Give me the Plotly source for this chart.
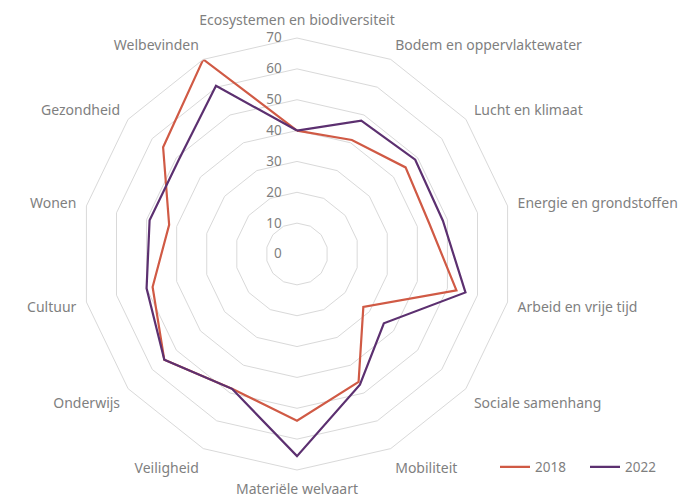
import plotly.graph_objects as go

categories = [
    "Ecosystemen en biodiversiteit", "Bodem en oppervlaktewater", "Lucht en klimaat",
    "Energie en grondstoffen", "Arbeid en vrije tijd", "Sociale samenhang",
    "Mobiliteit", "Materiële welvaart", "Veiligheid", "Onderwijs", "Cultuur",
    "Wonen", "Gezondheid", "Welbevinden",
]
values_2018 = [40, 41, 45, 44, 53, 27.5, 46, 54, 48.5, 55, 48, 42.5, 55.5, 70]
values_2022 = [40, 48, 49, 48.5, 56, 36, 47, 65.5, 48.5, 55, 50, 49, 49, 60.5]
radial_ticks = [0, 10, 20, 30, 40, 50, 60, 70]

color_2018 = "#d05a45"
color_2022 = "#5c3070"
grid = "#d9d9d9"
txt = "#7f7f7f"

fig = go.Figure()
for name, vals, col in [("2018", values_2018, color_2018), ("2022", values_2022, color_2022)]:
    fig.add_trace(go.Scatterpolar(
        r=vals + vals[:1], theta=categories + categories[:1], mode="lines",
        name=name, line=dict(color=col, width=2.2),
    ))

W, H = 696, 497
cx, cy, R = 297, 254, 216
fig.update_layout(
    width=W, height=H,
    margin=dict(l=0, r=0, t=0, b=0, autoexpand=False),
    paper_bgcolor="white",
    font=dict(family="Noto Sans, Open Sans, sans-serif", size=13, color=txt),
    polar=dict(
        domain=dict(x=[(cx - R) / W, (cx + R) / W], y=[1 - (cy + R) / H, 1 - (cy - R) / H]),
        bgcolor="white",
        gridshape="linear",
        angularaxis=dict(
            direction="clockwise", rotation=90, showgrid=False,
            ticks="outside", ticklen=7, tickcolor="rgba(0,0,0,0)",
            showline=True, linecolor=grid, linewidth=1,
            tickfont=dict(size=14, color=txt),
        ),
        radialaxis=dict(
            range=[0, 70], tickvals=radial_ticks, angle=90, tickangle=90,
            showline=False, ticks="outside", ticklen=10, tickcolor="rgba(0,0,0,0)",
            gridcolor=grid, gridwidth=1,
            side="counterclockwise", tickfont=dict(size=13.5, color=txt),
        ),
    ),
    legend=dict(
        orientation="h", x=495 / W, xanchor="left", y=1 - 467 / H, yanchor="middle",
        font=dict(size=13.5, color=txt), bgcolor="rgba(0,0,0,0)",
        entrywidth=45,
    ),
)

fig.write_html(
    "out.html",
    config={"displayModeBar": False},
    post_script="document.body.style.margin='0';",
)
